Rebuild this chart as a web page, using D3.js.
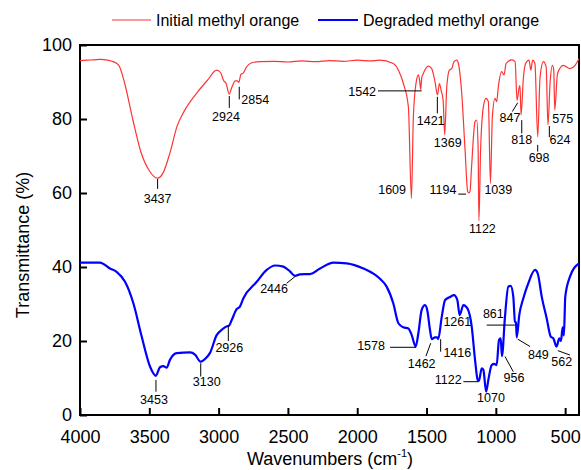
<!DOCTYPE html>
<html>
<head>
<meta charset="utf-8">
<script src="https://cdn.jsdelivr.net/npm/d3@7"></script>
<style>
  body { margin: 0; background: #fff; }
  svg text { font-family: "Liberation Sans", Arial, sans-serif; fill: #000; }
</style>
</head>
<body>
<svg id="chart" width="581" height="470"></svg>
<script>
// spectrum of the initial dye (wavenumber, transmittance)
const initialWn = [4000,3950,3900,3850,3800,3760,3720,3680,3620,3560,3500,3440,3400,3350,3300,3250,3158,3080,3014,2985,2965,2945,2924,2905,2880,2865,2854,2840,2820,2800,2760,2700,2600,2500,2400,2300,2200,2100,2000,1900,1840,1740,1700,1667,1631,1609,1595,1576,1559,1550,1542,1535,1523,1487,1463,1439,1421,1407,1395,1380,1369,1354,1335,1318,1302,1282,1270,1246,1222,1203,1194,1186,1175,1150,1138,1128,1122,1110,1090,1071,1054,1039,1025,1006,994,982,958,941,926,885,861,847,832,826,818,801,785,761,747,735,718,698,681,657,637,624,609,592,582,575,555,513,465,429,400];
const initialT  = [95.8,95.9,96.0,96.1,95.9,95.5,94.5,90,80,71,66,64,65.5,71,78,82,87,90.5,93.2,92.5,90.5,89.5,86.7,88.5,90.3,90.3,89.9,92,92.5,94,95.2,95.5,95.6,95.4,95.7,95.5,95.8,95.6,95.9,95.7,95.9,95.0,93,89.6,83.3,58.5,80.6,89.6,91.9,90.5,88,91,92.3,94.3,93.6,90.1,86.5,89.6,87.8,85,75.7,88.7,93.2,93.6,95.5,95.9,95,86.9,71.6,60.4,60,60.5,67.1,79.3,79.7,72.5,52.5,71.6,83.3,85.6,84.7,62.6,80.6,85.6,84.7,88.7,92.8,91.9,95,96,95.5,85,88.5,89,81.1,91.2,95,95.9,93.2,95.9,95,75.2,91.2,95.5,94.1,78.4,89.6,94.5,93.2,82.4,92.3,94.5,93.6,94.5,96.3];

// spectrum after degradation
const degradedWn = [4000,3856,3784,3736,3675,3615,3555,3495,3453,3423,3399,3375,3351,3302,3206,3170,3130,3086,3062,3014,2978,2940,2926,2906,2870,2846,2822,2725,2653,2593,2533,2485,2449,2413,2341,2268,2172,2076,1956,1836,1788,1740,1703,1667,1631,1607,1578,1559,1535,1511,1494,1475,1462,1439,1422,1416,1390,1366,1330,1302,1278,1261,1234,1205,1174,1150,1131,1122,1102,1090,1070,1054,1030,1011,994,977,965,956,934,910,893,874,862,855,849,831,802,766,717,698,669,633,604,585,562,542,530,518,509,499,465,400];
const degradedT  = [41.2,41.2,39.6,38.7,36,30.2,21.2,13.1,10.6,12.9,13.2,12.8,14.9,16.7,16.9,16.3,14.4,15.6,16.8,21.6,23,24,24.1,25.6,28.6,29.3,31.5,36,39.2,40.4,40.1,38.8,37.6,38,38.1,39.6,41.2,41,39.6,36.8,34.7,30.2,24.8,23.7,23.4,21.6,18.5,22.1,28.4,29.7,28.2,23,20.5,21,21,20.5,26.6,31.1,31.9,32.4,31.1,27,29.7,28.8,23.9,14.9,9.5,9.2,12.6,12.2,6.3,9.5,13.5,13.8,13.5,20.3,20.7,15.9,26.6,34.7,34.9,32,25.2,25,21,27,31.5,35.6,39.2,38.3,32,26.1,21.2,20.7,18.5,20.7,20,23.7,21.5,32,37.4,41];

const xTicks = [4000,3500,3000,2500,2000,1500,1000,500];
const yTicks = [0,20,40,60,80,100];
const seriesNames = ["Initial methyl orange", "Degraded methyl orange"];
const seriesColors = ["#ff3333", "#0000ff"];

// peak labels: text, label position, anchor, leader line (all in data units)
const initialPeaks = [
  ["3437", 3440, 58.6, "middle", [3440,63.8,3440,61.1]],
  ["2924", 2947, 80.8, "middle", [2923,86.2,2923,83.0]],
  ["2854", 2836, 85.4, "start",  [2851,88.7,2851,85.3]],
  ["1542", 1864, 87.3, "end",    [1850,87.6,1535,87.6]],
  ["1421", 1470, 79.5, "middle", [1422,86,1422,81.5]],
  ["1369", 1347, 73.6, "middle", null],
  ["1609", 1648, 61,   "end",    null],
  ["1194", 1381, 61,   "middle", [1271,59.7,1215,59.7]],
  ["1122", 1097, 50.3, "middle", null],
  ["1039", 982,  61,   "middle", null],
  ["847",  898,  80.4, "middle", [881,82,842,84.4]],
  ["818",  813,  74.5, "middle", [813,79.7,813,76.1]],
  ["698",  688,  69.5, "middle", [698,73,698,71.2]],
  ["624",  537,  74.5, "middle", [614,78.1,614,75.1]],
  ["575",  517,  80.2, "middle", null]
];
const degradedPeaks = [
  ["3453", 3466, 4.3,  "middle", [3452,9.5,3452,6.3]],
  ["3130", 3086, 9,    "middle", [3129,14,3129,10.4]],
  ["2926", 2923, 18.3, "middle", [2930,24.1,2930,20]],
  ["2446", 2600, 34.2, "middle", [2509,35.6,2449,37.4]],
  ["1578", 1800, 18.9, "end",    [1763,18.3,1576,18.3]],
  ["1462", 1535, 14,   "middle", [1504,15.9,1470,19.4]],
  ["1416", 1278, 16.9, "middle", [1398,20.5,1398,17.1]],
  ["1261", 1278, 25.4, "middle", null],
  ["1122", 1343, 9.6,  "middle", [1234,9,1126,9]],
  ["1070", 1035, 4.7,  "middle", null],
  ["956",  869,  10.1, "middle", [934,15.8,874,11.7]],
  ["861",  1018, 27.3, "middle", [1066,24.3,862,24.3]],
  ["849",  693,  16.4, "middle", [842,20.5,753,18.5]],
  ["562",  525,  14.4, "middle", [553,17.4,465,16.2]]
];

const svg = d3.select("#chart");
const plotL = 80, plotR = 579, plotT = 45, plotB = 415;

const x = d3.scaleLinear().domain([4000, 400]).range([plotL, plotR]);
const y = d3.scaleLinear().domain([0, 100]).range([plotB, plotT]);

// frame
svg.append("rect")
  .attr("x", plotL).attr("y", plotT)
  .attr("width", plotR - plotL).attr("height", plotB - plotT)
  .attr("fill", "none").attr("stroke", "#000").attr("stroke-width", 2);

// x axis
const xAxis = svg.append("g").attr("transform", `translate(0,${plotB})`)
  .call(d3.axisBottom(x).tickValues(xTicks).tickFormat(d3.format("d"))
    .tickSizeInner(-7).tickSizeOuter(0).tickPadding(15));
xAxis.select(".domain").remove();
xAxis.selectAll("line").attr("stroke-width", 2);
xAxis.selectAll("text").attr("font-size", 18).attr("font-family", "Liberation Sans, Arial");

// y axis
const yAxis = svg.append("g").attr("transform", `translate(${plotL},0)`)
  .call(d3.axisLeft(y).tickValues(yTicks).tickSizeInner(-7).tickSizeOuter(0).tickPadding(8));
yAxis.select(".domain").remove();
yAxis.selectAll("line").attr("stroke-width", 2);
yAxis.selectAll("text").attr("font-size", 18).attr("font-family", "Liberation Sans, Arial");

// axis titles
const xt = svg.append("text").attr("x", 330).attr("y", 465)
  .attr("text-anchor", "middle").attr("font-size", 18);
xt.append("tspan").text("Wavenumbers (cm");
xt.append("tspan").attr("font-size", 11).attr("dy", -8).text("-1");
xt.append("tspan").attr("dy", 8).text(")");

svg.append("text")
  .attr("transform", "translate(23,245) rotate(-90)")
  .attr("text-anchor", "middle").attr("dominant-baseline", "central")
  .attr("font-size", 18).text("Transmittance (%)");

// curves
const line = d3.line()
  .x(d => x(d[0])).y(d => y(d[1]))
  .curve(d3.curveMonotoneX);

svg.append("path")
  .datum(d3.zip(initialWn, initialT))
  .attr("d", line).attr("fill", "none")
  .attr("stroke", seriesColors[0]).attr("stroke-width", 1.2);

svg.append("path")
  .datum(d3.zip(degradedWn, degradedT))
  .attr("d", line).attr("fill", "none")
  .attr("stroke", seriesColors[1]).attr("stroke-width", 2.2);

// peak annotations
function drawPeaks(peaks) {
  const g = svg.append("g");
  peaks.forEach(p => {
    if (p[4]) {
      g.append("line")
        .attr("x1", x(p[4][0])).attr("y1", y(p[4][1]))
        .attr("x2", x(p[4][2])).attr("y2", y(p[4][3]))
        .attr("stroke", "#000").attr("stroke-width", 1);
    }
    g.append("text")
      .attr("x", x(p[1])).attr("y", y(p[2]))
      .attr("dy", "0.36em")
      .attr("text-anchor", p[3])
      .attr("font-size", 12.5)
      .text(p[0]);
  });
}
drawPeaks(initialPeaks);
drawPeaks(degradedPeaks);

// legend
const legend = svg.append("g");
const legendX = [[112, 151, 156], [318, 358, 363]];
seriesNames.forEach((name, i) => {
  legend.append("line")
    .attr("x1", legendX[i][0]).attr("x2", legendX[i][1])
    .attr("y1", 20).attr("y2", 20)
    .attr("stroke", seriesColors[i]).attr("stroke-width", i ? 2 : 1.2);
  legend.append("text")
    .attr("x", legendX[i][2]).attr("y", 20).attr("dy", "0.36em")
    .attr("font-size", 16).text(name);
});
</script>
</body>
</html>
